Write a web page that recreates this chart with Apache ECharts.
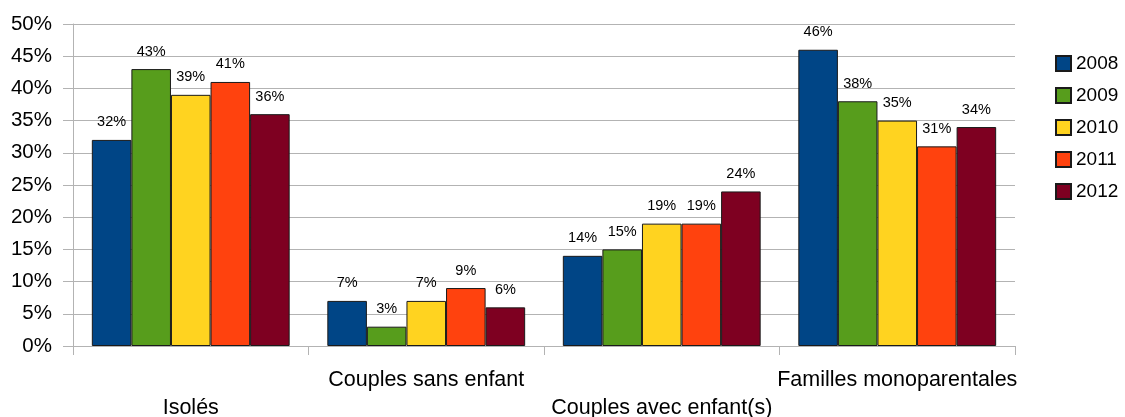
<!DOCTYPE html>
<html><head><meta charset="utf-8">
<script src="https://cdn.jsdelivr.net/npm/echarts@6/dist/echarts.min.js"></script>
<style>html,body{margin:0;padding:0;background:#fff}#c{width:1125px;height:417px}</style>
</head><body><div id="c"></div>
<script>
const categories = ['Isolés', 'Couples sans enfant', 'Couples avec enfant(s)', 'Familles monoparentales'];
const years = ['2008', '2009', '2010', '2011', '2012'];
const colors = ['#004586', '#579d1c', '#ffd320', '#ff420e', '#7e0021'];
const v2008 = [32, 7, 14, 46];
const v2009 = [43, 3, 15, 38];
const v2010 = [39, 7, 19, 35];
const v2011 = [41, 9, 19, 31];
const v2012 = [36, 6, 24, 34];
const values = [v2008, v2009, v2010, v2011, v2012];
const yTicks = [0, 5, 10, 15, 20, 25, 30, 35, 40, 45, 50];

const chart = echarts.init(document.getElementById('c'));
const font = 'Liberation Sans, Arial, sans-serif';
chart.setOption({
  animation: false,
  textStyle: { fontFamily: font },
  grid: { left: 73, right: 110, top: 24, bottom: 71, containLabel: false, outerBoundsMode: 'none' },
  legend: {
    orient: 'vertical', left: 1050, top: 49,
    itemWidth: 15, itemHeight: 15, itemGap: 13,
    icon: 'rect',
    textStyle: { fontSize: 19, color: '#000', fontFamily: font, padding: [0, 0, 0, 0] },
    data: years
  },
  xAxis: {
    type: 'category', data: categories,
    axisLine: { lineStyle: { color: '#b3b3b3' } },
    axisTick: { show: true, length: 9, lineStyle: { color: '#b3b3b3' } },
    axisLabel: {
      interval: 0, fontSize: 21.5, color: '#000', lineHeight: 28, margin: 20,
      formatter: (v, i) => (i % 2 === 0 ? '\n' + v : v)
    }
  },
  yAxis: {
    type: 'value', min: 0, max: 50, interval: 5,
    axisLine: { show: true, lineStyle: { color: '#b3b3b3' } },
    axisTick: { show: true, length: 10, lineStyle: { color: '#b3b3b3' } },
    splitLine: { lineStyle: { color: '#b3b3b3' } },
    axisLabel: { fontSize: 20.5, color: '#000', margin: 21, formatter: v => yTicks.includes(v) ? v + '%' : '' }
  },
  series: years.map((y, k) => ({
    name: y, type: 'bar', data: values[k],
    barGap: '0%', barCategoryGap: '16%',
    itemStyle: { color: colors[k], borderColor: '#1a1a1a', borderWidth: 1 },
    label: { show: true, position: 'top', distance: 10, fontSize: 14.5, color: '#000', formatter: p => p.value + '%' }
  }))
});
</script></body></html>
